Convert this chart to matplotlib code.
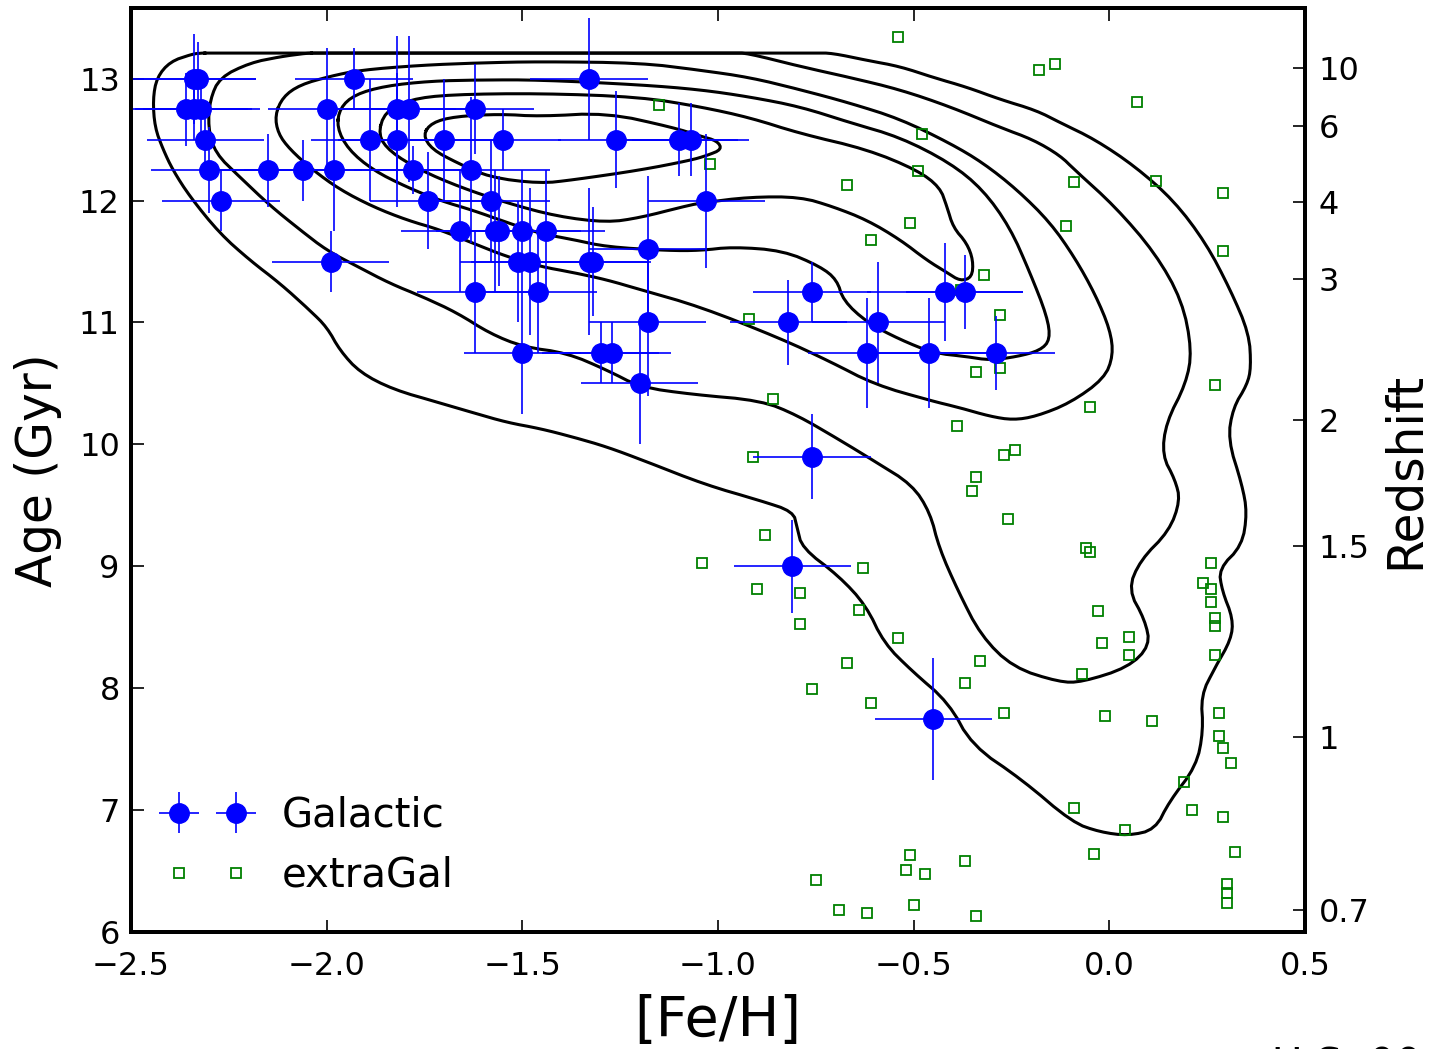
import numpy as np
import matplotlib
matplotlib.use("Agg")
import matplotlib.pyplot as plt

plt.rcParams['font.family'] = ['DejaVu Sans']

# ── Galactic globular clusters: [Fe/H], age and their errors
gal_feh = [-2.34, -2.33, -1.93, -1.33,
           -2.36, -2.34, -2.32, -2.00, -1.82, -1.79, -1.62,
           -2.31, -1.89, -1.82, -1.70, -1.55, -1.26, -1.10, -1.07,
           -2.30, -2.15, -2.06, -1.98, -1.78, -1.63,
           -2.27, -1.74, -1.58, -1.03,
           -1.66, -1.57, -1.56, -1.50, -1.44,
           -1.18,
           -1.99, -1.51, -1.48, -1.33, -1.32,
           -1.62, -1.46, -0.76, -0.42, -0.37,
           -1.18, -0.82, -0.59,
           -1.50, -1.30, -1.27, -0.62, -0.46, -0.29,
           -1.20, -0.76, -0.81, -0.45]
gal_age = [13.0, 13.0, 13.0, 13.0,
           12.75, 12.75, 12.75, 12.75, 12.75, 12.75, 12.75,
           12.5, 12.5, 12.5, 12.5, 12.5, 12.5, 12.5, 12.5,
           12.25, 12.25, 12.25, 12.25, 12.25, 12.25,
           12.0, 12.0, 12.0, 12.0,
           11.75, 11.75, 11.75, 11.75, 11.75,
           11.6,
           11.5, 11.5, 11.5, 11.5, 11.5,
           11.25, 11.25, 11.25, 11.25, 11.25,
           11.0, 11.0, 11.0,
           10.75, 10.75, 10.75, 10.75, 10.75, 10.75,
           10.5, 9.9, 9.0, 7.75]
gal_feh_err = [0.16, 0.15, 0.15, 0.15,
               0.16, 0.15, 0.15, 0.15, 0.15, 0.15, 0.15,
               0.15, 0.15, 0.15, 0.15, 0.15, 0.15, 0.15, 0.15,
               0.15, 0.15, 0.15, 0.15, 0.15, 0.20,
               0.15, 0.15, 0.15, 0.15,
               0.15, 0.15, 0.15, 0.15, 0.15,
               0.15,
               0.15, 0.15, 0.15, 0.15, 0.15,
               0.15, 0.15, 0.15, 0.20, 0.15,
               0.15, 0.15, 0.17,
               0.15, 0.15, 0.15, 0.15, 0.15, 0.15,
               0.15, 0.15, 0.15, 0.15]
gal_age_err = [0.37, 0.30, 0.25, 0.50,
               0.30, 0.25, 0.30, 0.50, 0.60, 0.60, 0.37,
               0.25, 0.50, 0.55, 0.50, 0.25, 0.40, 0.30, 0.30,
               0.35, 0.30, 0.25, 0.50, 0.20, 0.60,
               0.25, 0.40, 0.50, 0.55,
               0.50, 0.50, 0.45, 0.50, 0.50,
               0.60,
               0.25, 0.50, 0.60, 0.60, 0.45,
               0.50, 0.50, 0.25, 0.40, 0.30,
               0.60, 0.35, 0.50,
               0.50, 0.25, 0.25, 0.45, 0.45, 0.30,
               0.50, 0.35, 0.38, 0.50]

# ── extragalactic clusters
ext_feh = [-0.54, -0.18, -0.14, 0.07, -1.15, -0.48, -1.02, -0.49, -0.67, -0.09,
           0.12, 0.29, -0.51, -0.11, -0.61, 0.29, -0.32, -0.38, -0.28, -0.92,
           -0.34, -0.28, 0.27, -0.86, -0.05, -0.39, -0.91, -0.27, -0.24, -0.34,
           -0.35, -0.26, -0.88, -0.06, -0.05, -1.04, -0.63, 0.26, -0.90, -0.79,
           0.24, 0.26, 0.26, 0.27, 0.27, -0.64, -0.03, -0.79, 0.05, -0.02,
           0.05, -0.54, 0.27, -0.67, -0.33, -0.07, -0.37, -0.76, -0.61, -0.27,
           -0.01, 0.11, 0.28, 0.28, 0.29, 0.31, 0.19, -0.09, 0.21, 0.29,
           0.04, 0.32, -0.04, -0.51, -0.37, -0.52, -0.47, -0.75, 0.30, 0.30,
           0.30, -0.50, -0.69, -0.62, -0.34]
ext_age = [13.34, 13.07, 13.12, 12.81, 12.78, 12.55, 12.30, 12.24, 12.13, 12.15,
           12.16, 12.06, 11.82, 11.79, 11.68, 11.59, 11.39, 11.27, 11.06, 11.03,
           10.59, 10.63, 10.49, 10.37, 10.31, 10.15, 9.90, 9.91, 9.95, 9.73,
           9.62, 9.39, 9.26, 9.15, 9.12, 9.03, 8.99, 9.03, 8.81, 8.78,
           8.86, 8.81, 8.71, 8.58, 8.51, 8.64, 8.63, 8.53, 8.42, 8.37,
           8.27, 8.41, 8.27, 8.21, 8.22, 8.12, 8.04, 7.99, 7.88, 7.80,
           7.77, 7.73, 7.80, 7.61, 7.51, 7.39, 7.23, 7.02, 7.00, 6.94,
           6.84, 6.66, 6.64, 6.63, 6.58, 6.51, 6.48, 6.43, 6.39, 6.32,
           6.24, 6.22, 6.18, 6.16, 6.13]

# ── density contours (outermost first); the two outer ones are cut flat at the top
c1_feh = [-2.324, -2.29, -0.75, -0.709, -0.619, -0.535, -0.450, -0.364, -0.279, -0.187, -0.126, -0.036,
          0.066, 0.165, 0.247, 0.309, 0.357, 0.362, 0.352, 0.316, 0.303, 0.339,
          0.352, 0.339, 0.280, 0.288, 0.316, 0.311, 0.270, 0.234, 0.240, 0.222,
          0.153, 0.117, 0.048, -0.024, -0.095, -0.223, -0.351, -0.410, -0.504, -0.576,
          -0.622, -0.691, -0.785, -0.798, -0.808, -0.893, -1.033, -1.184, -1.284, -1.370,
          -1.455, -1.539, -1.626, -1.710, -1.830, -1.915, -1.966, -1.999, -2.043, -2.119,
          -2.196, -2.273, -2.349, -2.393, -2.418, -2.439, -2.444, -2.434, -2.400, -2.345, -2.324]
c1_age = [13.21, 13.21, 13.21, 13.21, 13.15, 13.10, 13.01, 12.93, 12.83, 12.74, 12.64, 12.50,
          12.28, 12.00, 11.65, 11.27, 10.91, 10.63, 10.49, 10.30, 10.04, 9.67,
          9.44, 9.17, 8.98, 8.80, 8.57, 8.40, 8.17, 7.94, 7.65, 7.36,
          7.07, 6.84, 6.79, 6.82, 6.90, 7.25, 7.53, 7.88, 8.14, 8.37,
          8.68, 8.92, 9.15, 9.32, 9.45, 9.54, 9.67, 9.86, 9.98, 10.06,
          10.13, 10.18, 10.26, 10.34, 10.45, 10.59, 10.77, 10.96, 11.10, 11.32,
          11.51, 11.73, 12.03, 12.25, 12.42, 12.60, 12.83, 13.01, 13.14, 13.20, 13.21]

c2_feh = [-2.050, -2.02, -0.96, -0.926, -0.790, -0.663, -0.535, -0.407, -0.279, -0.195, -0.126, -0.088,
          0.015, 0.117, 0.186, 0.211, 0.196, 0.145, 0.135, 0.168, 0.181, 0.153,
          0.079, 0.048, 0.091, 0.104, 0.048, -0.070, -0.128, -0.246, -0.328, -0.387,
          -0.435, -0.458, -0.504, -0.599, -0.691, -0.798, -0.890, -1.066, -1.199, -1.284,
          -1.386, -1.498, -1.583, -1.667, -1.754, -1.838, -1.922, -1.999, -2.068, -2.145,
          -2.221, -2.285, -2.303, -2.298, -2.273, -2.196, -2.119, -2.050]
c2_age = [13.21, 13.21, 13.21, 13.21, 13.10, 13.01, 12.91, 12.77, 12.60, 12.50, 12.37, 12.25,
          11.95, 11.57, 11.18, 10.77, 10.50, 10.18, 9.91, 9.71, 9.54, 9.29,
          9.05, 8.81, 8.56, 8.35, 8.17, 8.05, 8.05, 8.17, 8.43, 8.80,
          9.15, 9.44, 9.67, 9.86, 10.04, 10.24, 10.36, 10.41, 10.47, 10.61,
          10.75, 10.80, 10.91, 11.08, 11.21, 11.32, 11.46, 11.59, 11.76, 11.96,
          12.19, 12.39, 12.60, 12.83, 13.01, 13.13, 13.18, 13.21]

c3_feh = [-2.132, -2.112, -2.068, -1.991, -1.915, -1.761, -1.608, -1.455, -1.199, -1.046,
          -0.918, -0.790, -0.663, -0.535, -0.407, -0.323, -0.236, -0.151, -0.088, -0.036,
          0.002, 0.010, -0.013, -0.100, -0.187, -0.246, -0.305, -0.381, -0.458, -0.599,
          -0.714, -0.841, -1.046, -1.199, -1.284, -1.370, -1.455, -1.539, -1.626, -1.710,
          -1.795, -1.882, -1.966, -2.035, -2.094, -2.124, -2.132]
c3_age = [12.70, 12.85, 12.95, 13.02, 13.07, 13.11, 13.13, 13.14, 13.13, 13.07,
          13.01, 12.91, 12.80, 12.67, 12.47, 12.31, 12.09, 11.82, 11.53, 11.23,
          10.94, 10.73, 10.54, 10.34, 10.23, 10.20, 10.23, 10.30, 10.36, 10.49,
          10.68, 10.87, 11.13, 11.27, 11.35, 11.41, 11.46, 11.54, 11.65, 11.76,
          11.84, 11.95, 12.09, 12.25, 12.42, 12.55, 12.70]

c4_feh = [-1.974, -1.966, -1.928, -1.851, -1.736, -1.608, -1.455, -1.199, -1.046, -0.918,
          -0.790, -0.663, -0.535, -0.407, -0.323, -0.254, -0.203, -0.159, -0.151, -0.177,
          -0.236, -0.305, -0.364, -0.450, -0.535, -0.619, -0.680, -0.696, -0.739, -0.834,
          -0.962, -1.046, -1.130, -1.284, -1.370, -1.455, -1.539, -1.626, -1.710, -1.795,
          -1.882, -1.945, -1.974]
c4_age = [12.60, 12.76, 12.87, 12.94, 12.98, 12.99, 12.99, 12.95, 12.91, 12.85,
          12.77, 12.64, 12.52, 12.31, 12.09, 11.78, 11.41, 11.05, 10.86, 10.77,
          10.72, 10.69, 10.72, 10.75, 10.86, 11.00, 11.18, 11.35, 11.46, 11.59,
          11.62, 11.59, 11.59, 11.62, 11.68, 11.73, 11.82, 11.92, 12.00, 12.11,
          12.25, 12.42, 12.60]

c5_feh = [-1.869, -1.851, -1.787, -1.685, -1.455, -1.199, -1.046, -0.918, -0.790, -0.619,
          -0.491, -0.433, -0.415, -0.399, -0.364, -0.348, -0.351, -0.381, -0.415, -0.466,
          -0.535, -0.619, -0.706, -0.790, -0.918, -1.046, -1.089, -1.199, -1.284, -1.411,
          -1.539, -1.659, -1.761, -1.838, -1.869]
c5_age = [12.54, 12.73, 12.83, 12.87, 12.88, 12.85, 12.77, 12.68, 12.55, 12.42,
          12.25, 12.11, 11.95, 11.78, 11.65, 11.51, 11.37, 11.34, 11.41, 11.51,
          11.68, 11.84, 11.95, 12.03, 12.03, 11.98, 11.95, 11.86, 11.82, 11.87,
          11.98, 12.11, 12.25, 12.40, 12.54]

c6_feh = [-1.754, -1.731, -1.672, -1.557, -1.455, -1.284, -1.115, -1.046, -1.002, -0.990,
          -1.028, -1.071, -1.199, -1.370, -1.455, -1.583, -1.667, -1.731, -1.754]
c6_age = [12.54, 12.64, 12.69, 12.71, 12.69, 12.72, 12.60, 12.53, 12.49, 12.42,
          12.37, 12.33, 12.25, 12.17, 12.14, 12.19, 12.31, 12.42, 12.54]

contours = [(c1_feh, c1_age), (c2_feh, c2_age), (c3_feh, c3_age),
            (c4_feh, c4_age), (c5_feh, c5_age), (c6_feh, c6_age)]

# ── redshift scale on the right axis (lookback-time positions)
z_labels = ['10', '6', '4', '3', '2', '1.5', '1', '0.7']
z_age = [13.09, 12.61, 11.99, 11.36, 10.20, 9.17, 7.60, 6.18]


def chaikin(xs, ys, n_iter=2):
    # corner-cutting smoothing for a closed polyline
    p = np.column_stack([xs, ys])[:-1]
    for _ in range(n_iter):
        q = np.roll(p, -1, axis=0)
        a = 0.75 * p + 0.25 * q
        b = 0.25 * p + 0.75 * q
        p = np.empty((2 * len(a), 2))
        p[0::2] = a
        p[1::2] = b
    p = np.vstack([p, p[:1]])
    return p[:, 0], p[:, 1]


fig = plt.figure(figsize=(14.33, 10.49), dpi=100)
ax = fig.add_axes([0.0914, 0.1115, 0.8193, 0.8809])

for cx, cy in contours:
    sx, sy = chaikin(cx, cy)
    ax.plot(sx, sy, color="black", lw=2.2, zorder=1)

ax.plot(ext_feh, ext_age, ls="none", marker="s", ms=7, mfc="none",
        mec="green", mew=1.3, label="extraGal", zorder=2)
ax.errorbar(gal_feh, gal_age, xerr=gal_feh_err, yerr=gal_age_err,
            fmt="o", color="blue", ms=14, ecolor="blue", elinewidth=1.2,
            capsize=0, label="Galactic", zorder=3)

ax.set_xlim(-2.5, 0.5)
ax.set_ylim(6, 13.58)
ax.set_xticks([-2.5, -2.0, -1.5, -1.0, -0.5, 0.0, 0.5])
ax.set_yticks([6, 7, 8, 9, 10, 11, 12, 13])
ax.tick_params(direction="in", length=9, width=1.2, labelsize=23,
               top=True, right=False)
ax.tick_params(axis="x", pad=14)
ax.tick_params(axis="y", pad=8)
ax.set_xlabel("[Fe/H]", fontsize=40, labelpad=8)
ax.set_ylabel("Age (Gyr)", fontsize=35, labelpad=12)

handles, labels = ax.get_legend_handles_labels()
order = [labels.index("Galactic"), labels.index("extraGal")]
ax.legend([handles[i] for i in order], [labels[i] for i in order],
          loc="lower left", frameon=False, numpoints=2, fontsize=29,
          handlelength=2.0, handletextpad=0.85, labelspacing=0.5)

ax2 = ax.twinx()
ax2.set_ylim(ax.get_ylim())
ax2.set_yticks(z_age)
ax2.set_yticklabels(z_labels)
ax2.tick_params(direction="in", length=9, width=1.2, labelsize=23, pad=10)
ax2.set_ylabel("Redshift", fontsize=35, labelpad=8)

for a in (ax, ax2):
    for s in a.spines.values():
        s.set_linewidth(2.8)

# fragment of a caption that the crop cuts at the bottom edge
fig.text(1272 / 1433, -0.028, "U.S. 00", fontsize=30, ha="left", va="baseline")

plt.savefig("out.png", dpi=100)
plt.close()
